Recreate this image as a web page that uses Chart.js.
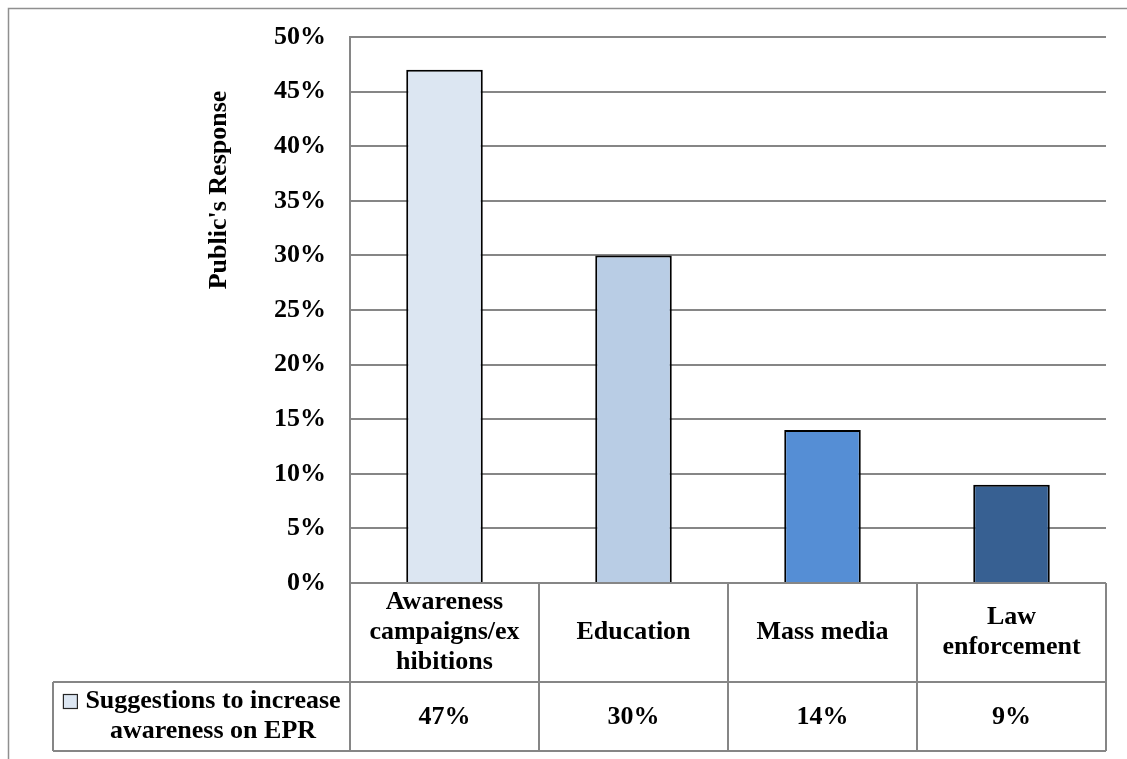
<!DOCTYPE html>
<html>
<head>
<meta charset="utf-8">
<title>Suggestions to increase awareness on EPR</title>
<script src="https://cdn.jsdelivr.net/npm/chart.js@4/dist/chart.umd.min.js"></script>
<style>
  html, body { margin: 0; padding: 0; background: #ffffff; }
  #wrap { width: 1127px; height: 759px; position: relative; }
</style>
</head>
<body>
<div id="wrap"><canvas id="chart" width="1127" height="759"></canvas></div>
<script>
// Survey categories (multi-line labels are arrays of lines)
const categories = [
  ['Awareness', 'campaigns/ex', 'hibitions'],
  'Education',
  'Mass media',
  ['Law', 'enforcement']
];
// Share of respondents per suggestion, in percent
const responses = [47, 30, 14, 9];
const barColors = ['#DCE6F2', '#B9CDE5', '#558ED5', '#376092'];
const seriesLabel = ['Suggestions to increase', 'awareness on EPR'];
const axisTitle = "Public's Response";
const yMin = 0, yMax = 50, yStep = 5;

const FONT = "'Liberation Serif', 'Times New Roman', serif";
const GRID = '#868686';

// Draws the outer frame, the rotated axis title and the data table under the plot
const tablePlugin = {
  id: 'dataTable',
  beforeDraw(chart) {
    const { ctx, width, height } = chart;
    ctx.save();
    ctx.fillStyle = '#ffffff';
    ctx.fillRect(0, 0, width, height);
    ctx.strokeStyle = '#8f8f8f';
    ctx.lineWidth = 1.5;
    ctx.strokeRect(8.5, 8.5, width + 20, height + 20);
    ctx.restore();
  },
  afterDraw(chart) {
    const { ctx, chartArea, scales } = chart;
    const x = scales.x;
    const n = categories.length;
    const top = chartArea.bottom;
    const row1 = 99, row2 = 69;
    const mid = top + row1, bot = mid + row2;
    const legendLeft = 53;

    const edges = [];
    for (let i = 0; i <= n; i++) {
      if (i === 0) edges.push(chartArea.left);
      else if (i === n) edges.push(chartArea.right);
      else edges.push((x.getPixelForValue(i - 1) + x.getPixelForValue(i)) / 2);
    }

    ctx.save();
    // table grid
    ctx.strokeStyle = GRID;
    ctx.lineWidth = 2;
    ctx.beginPath();
    ctx.moveTo(chartArea.left, top); ctx.lineTo(chartArea.right, top);
    ctx.moveTo(legendLeft, mid); ctx.lineTo(chartArea.right, mid);
    ctx.moveTo(legendLeft, bot); ctx.lineTo(chartArea.right, bot);
    edges.forEach(e => { ctx.moveTo(e, top); ctx.lineTo(e, bot); });
    ctx.moveTo(legendLeft, mid); ctx.lineTo(legendLeft, bot);
    ctx.stroke();

    ctx.fillStyle = '#000000';
    ctx.font = 'bold 26px ' + FONT;
    ctx.textAlign = 'center';
    ctx.textBaseline = 'middle';
    const lh = 30;

    // category header cells
    categories.forEach((lab, i) => {
      const lines = Array.isArray(lab) ? lab : [lab];
      const cx = (edges[i] + edges[i + 1]) / 2;
      const cy = top + row1 / 2;
      lines.forEach((t, k) => {
        ctx.fillText(t, cx, cy + (k - (lines.length - 1) / 2) * lh);
      });
    });

    // value cells
    responses.forEach((v, i) => {
      const cx = (edges[i] + edges[i + 1]) / 2;
      ctx.fillText(v + '%', cx, mid + row2 / 2 + 1);
    });

    // series key cell
    const keyCx = 213;
    const keyCy = mid + row2 / 2;
    seriesLabel.forEach((t, k) => {
      ctx.fillText(t, keyCx, keyCy + (k - (seriesLabel.length - 1) / 2) * lh);
    });
    const w0 = ctx.measureText(seriesLabel[0]).width;
    const mx = keyCx - w0 / 2 - 22;
    const my = keyCy - lh / 2 - 7;
    ctx.fillStyle = barColors[0];
    ctx.fillRect(mx, my, 14, 14);
    ctx.strokeStyle = '#262626';
    ctx.lineWidth = 1.2;
    ctx.strokeRect(mx, my, 14, 14);

    // vertical axis title
    ctx.fillStyle = '#000000';
    ctx.font = 'bold 26px ' + FONT;
    ctx.translate(219, 190);
    ctx.rotate(-Math.PI / 2);
    ctx.fillText(axisTitle, 0, 0);
    ctx.restore();
  }
};

new Chart(document.getElementById('chart'), {
  type: 'bar',
  data: {
    labels: categories,
    datasets: [{
      label: seriesLabel.join(' '),
      data: responses,
      backgroundColor: barColors,
      borderColor: '#000000',
      borderWidth: 2,
      barPercentage: 0.405,
      categoryPercentage: 1.0
    }]
  },
  options: {
    responsive: false,
    devicePixelRatio: 1,
    animation: false,
    layout: { padding: { left: 0, right: 21, top: 37, bottom: 176 } },
    plugins: {
      legend: { display: false },
      tooltip: { enabled: false },
      title: { display: false }
    },
    scales: {
      x: { display: false },
      y: {
        min: yMin,
        max: yMax,
        afterFit(scale) {
          scale.width = 350;
          scale.paddingTop = 16;
          scale.paddingBottom = 16;
        },
        ticks: {
          stepSize: yStep,
          callback: v => v + '%',
          color: '#000000',
          padding: 24,
          font: { family: FONT, size: 26, weight: 'bold' }
        },
        grid: { color: GRID, lineWidth: 2, drawTicks: false },
        border: { color: GRID, width: 2 }
      }
    }
  },
  plugins: [tablePlugin]
});
</script>
</body>
</html>
